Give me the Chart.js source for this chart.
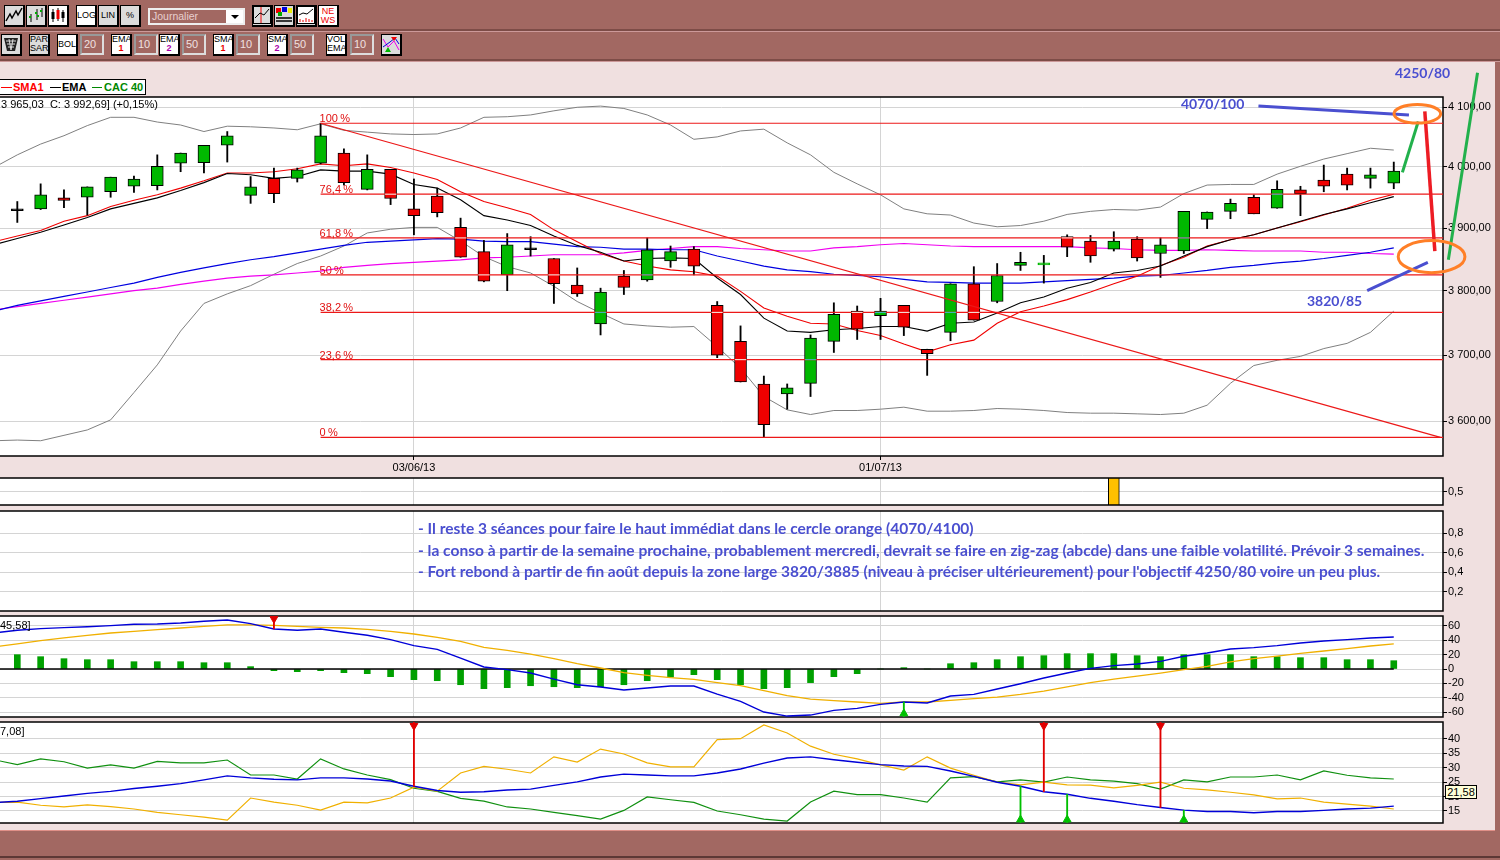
<!DOCTYPE html>
<html lang="fr">
<head>
<meta charset="utf-8">
<title>CAC 40</title>
<script src="https://cdn.jsdelivr.net/npm/chart.js@4/dist/chart.umd.min.js"></script>
<style>
html,body{margin:0;padding:0;width:1500px;height:860px;overflow:hidden;background:#a26862;font-family:"Liberation Sans",Arial,sans-serif;}
#mid{position:absolute;left:0;top:62px;width:1495px;height:768px;background:#f0e0e0;border-bottom:1px solid #e09088;}
.rule{position:absolute;left:0;width:1500px;height:2px;background:#7d4c47;border-bottom:1px solid #c99;}
canvas{position:absolute;left:0;}
.b{position:absolute;box-sizing:border-box;width:21px;height:22px;background:#fff;border:1px solid #000;border-right-width:2px;border-bottom-width:2px;font-size:9px;line-height:9px;text-align:center;color:#000;overflow:hidden;}
.b.g{background:#dcdcdc;}
.b.one{line-height:19px;}
.b.two{padding-top:0;}
.b i{font-style:normal;font-weight:bold;}
.b svg{position:absolute;left:0;top:0;}
.inp{position:absolute;box-sizing:border-box;width:24px;height:21px;background:#a26862;border:2px solid #999;border-right-color:#ddd;border-bottom-color:#ddd;color:#f0e0e0;font-size:11px;line-height:17px;padding-left:2px;}
.t{position:absolute;white-space:nowrap;z-index:5;}
.note{font-family:Lato,sans-serif;font-weight:bold;color:#4a4fd0;}
.m{font-size:11px;color:#000;}
#legend{position:absolute;left:-1px;top:79px;width:147px;height:16px;box-sizing:border-box;background:#fff;border:1px solid #000;font-size:11px;font-weight:bold;line-height:14px;z-index:5;}
#legend span{position:absolute;top:0;}
#legend b{position:absolute;top:7px;height:1px;}
</style>
</head>
<body>
<div id="mid"></div>
<div class="rule" style="top:29px"></div>
<div class="rule" style="top:59px"></div>
<div class="rule" style="top:856px;background:#5c3835;border:0"></div>
<div id="toolbar"></div>

<div id="legend">
  <b style="left:1px;width:11px;background:#f00"></b><span style="left:13px;color:#f00">SMA1</span>
  <b style="left:50px;width:11px;background:#000"></b><span style="left:62px;color:#000">EMA</span>
  <b style="left:92px;width:10px;background:#080"></b><span style="left:104px;color:#080">CAC 40</span>
</div>
<div class="t m" style="left:1px;top:98px">3 965,03 &nbsp;C: 3 992,69] (+0,15%)</div>
<div class="t m" style="left:0;top:619px">45,58]</div>
<div class="t m" style="left:0;top:725px">7,08]</div>
<div class="t" style="left:1445px;top:785px;width:32px;height:14px;box-sizing:border-box;background:#ffffd8;border:1px solid #000;font-size:11px;line-height:12px;text-align:center">21,58</div>

<canvas id="cPrice" width="1493" height="416" style="top:62px"></canvas>
<canvas id="cFlag" width="1493" height="43" style="top:470px"></canvas>
<canvas id="cNote" width="1493" height="116" style="top:503px"></canvas>
<canvas id="cMacd" width="1493" height="117" style="top:608px"></canvas>
<canvas id="cAdx" width="1493" height="117" style="top:714px"></canvas>

<div class="t note" style="left:1181px;top:95px;font-size:14px">4070/100</div>
<div class="t note" style="left:1395px;top:64px;font-size:14px">4250/80</div>
<div class="t note" style="left:1307px;top:292px;font-size:14px">3820/85</div>
<div class="t note" style="left:418px;top:519px;font-size:15.5px">- Il reste 3 séances pour faire le haut immédiat dans le cercle orange (4070/4100)</div>
<div class="t note" style="left:418px;top:541px;font-size:15.55px">- la conso à partir de la semaine prochaine, probablement mercredi, devrait se faire en zig-zag (abcde) dans une faible volatilité. Prévoir 3 semaines.</div>
<div class="t note" style="left:418px;top:562px;font-size:15.45px">- Fort rebond à partir de fin août depuis la zone large 3820/3885 (niveau à préciser ultérieurement) pour l'objectif 4250/80 voire un peu plus.</div>

<script>
// sessions, 09/05/13 -> 31/07/13
const dates=['09/05/13','10/05/13','13/05/13','14/05/13','15/05/13','16/05/13','17/05/13','20/05/13','21/05/13','22/05/13','23/05/13','24/05/13','27/05/13','28/05/13','29/05/13','30/05/13','31/05/13','03/06/13','04/06/13','05/06/13','06/06/13','07/06/13','10/06/13','11/06/13','12/06/13','13/06/13','14/06/13','17/06/13','18/06/13','19/06/13','20/06/13','21/06/13','24/06/13','25/06/13','26/06/13','27/06/13','28/06/13','01/07/13','02/07/13','03/07/13','04/07/13','05/07/13','08/07/13','09/07/13','10/07/13','11/07/13','12/07/13','15/07/13','16/07/13','17/07/13','18/07/13','19/07/13','22/07/13','23/07/13','24/07/13','25/07/13','26/07/13','29/07/13','30/07/13','31/07/13'];
const candleOpen=[3928,3931,3949,3950,3959,3968,3969,4006,4007,4036,3953,3981,3981,4006,4023,3963,3996,3931,3952,3901,3862,3825,3865,3851,3809,3748,3823,3817,3847,3866,3777,3721,3656,3641,3657,3721,3768,3761,3777,3709,3735,3811,3783,3840,3841,3886,3879,3866,3882,3859,3863,3914,3927,3950,3932,3962,3978,3988,3981,3973];
const candleHigh=[3943,3972,3962,3967,3983,3985,4020,4023,4036,4059,3984,3998,3998,4073,4030,4020,3996,3980,3965,3916,3880,3891,3886,3851,3836,3804,3832,3884,3871,3870,3783,3745,3668,3656,3731,3781,3776,3788,3777,3709,3811,3838,3843,3861,3856,3889,3888,3894,3886,3884,3927,3926,3947,3954,3977,3968,4003,3998,3998,4008];
const candleLow=[3909,3930,3933,3921,3950,3958,3962,3992,3990,4008,3940,3941,3975,4005,3970,3962,3938,3889,3918,3853,3814,3800,3855,3780,3791,3731,3794,3815,3837,3825,3696,3659,3576,3618,3637,3704,3724,3724,3730,3669,3722,3754,3781,3832,3812,3854,3845,3863,3847,3821,3859,3899,3915,3923,3932,3920,3959,3962,3965,3964];
const candleClose=[3928,3954,3945,3967,3983,3980,4001,4023,4036,4052,3967,3956,3995,4052,3974,3996,3948,3920,3925,3853,3815,3873,3865,3811,3795,3798,3805,3865,3862,3839,3700,3659,3595,3650,3726,3763,3740,3768,3743,3702,3811,3754,3824,3845,3841,3869,3855,3879,3852,3873,3927,3926,3940,3923,3963,3956,3968,3970,3987,3993];
const bollUp=[4020,4038,4052,4069,4083,4083,4075,4070,4059,4068,4067,4065,4062,4072,4061,4058,4055,4054,4055,4065,4083,4084,4087,4094,4100,4102,4098,4087,4070,4046,4050,4060,4063,4040,4020,3991,3972,3954,3931,3923,3921,3908,3902,3904,3911,3922,3927,3930,3929,3934,3956,3970,3971,3971,3988,4001,4013,4022,4031,4028];
const bollDown=[3572,3571,3579,3587,3602,3643,3685,3737,3780,3795,3808,3826,3843,3855,3871,3892,3898,3901,3901,3879,3854,3838,3828,3807,3783,3765,3748,3745,3743,3744,3713,3680,3637,3617,3610,3616,3616,3618,3621,3615,3615,3616,3619,3618,3616,3613,3612,3612,3611,3610,3612,3624,3657,3684,3692,3698,3710,3718,3735,3768];
const sma1=[3887,3896,3911,3920,3935,3945,3954,3965,3977,3990,3990,3992,3997,4005,4002,4005,3999,3990,3979,3959,3943,3933,3922,3897,3878,3859,3847,3839,3833,3830,3823,3799,3773,3760,3749,3748,3738,3730,3717,3705,3716,3723,3749,3767,3776,3786,3798,3811,3823,3840,3853,3871,3881,3889,3900,3910,3921,3932,3945,3955];
const ema1=[3883,3893,3905,3917,3931,3940,3949,3961,3974,3989,3987,3981,3984,3995,3993,3993,3988,3971,3965,3946,3920,3913,3904,3887,3872,3861,3847,3851,3852,3851,3820,3794,3757,3737,3735,3739,3741,3744,3744,3737,3749,3751,3765,3781,3790,3804,3813,3828,3832,3839,3855,3870,3881,3889,3900,3911,3922,3931,3941,3951];
const ema2=[3777,3784,3791,3798,3805,3812,3821,3829,3836,3843,3849,3854,3860,3866,3872,3877,3879,3881,3883,3882,3879,3878,3878,3874,3870,3869,3866,3866,3865,3865,3855,3847,3839,3833,3830,3826,3824,3822,3818,3814,3813,3812,3812,3812,3814,3816,3818,3820,3823,3824,3828,3832,3837,3840,3844,3847,3851,3856,3861,3868];
const sma2=[3775,3780,3785,3790,3795,3800,3804,3810,3815,3820,3823,3825,3828,3831,3837,3840,3843,3845,3847,3849,3852,3853,3855,3857,3857,3857,3860,3864,3867,3870,3870,3867,3865,3863,3863,3868,3870,3873,3875,3873,3871,3870,3870,3870,3870,3870,3868,3867,3865,3864,3864,3865,3864,3863,3863,3863,3861,3861,3859,3858];
// values of the session just before the window, the lines come in from the left edge
const prevBollUp=3999,prevBollDown=3571,prevSma1=3878,prevEma1=3873,prevEma2=3768,prevSma2=3770;
const prevMacd=50.2,prevSignal=30.7,prevAdx=17.9,prevDiPlus=32.8,prevDiMinus=18;
const fibLevels=[4073,3955,3884,3825,3766,3693,3576];
const fibLabels=['100\u2009%','76,4\u2009%','61,8\u2009%','50\u2009%','38,2\u2009%','23,6\u2009%','0\u2009%'];
const trendX=[13,61],trendY=[4073,3576];
// hand drawn marks on the price panel
const handBlueTopX=[53.2,59.65],handBlueTopY=[4102,4087];
const handGreenShortX=[59.37,60.05],handGreenShortY=[3991,4076];
const handRedX=[60.33,60.76],handRedY=[4093,3863];
const handGreenLongX=[61.34,62.59],handGreenLongY=[3849,4159];
const handBlueLowX=[57.86,60.46],handBlueLowY=[3800,3845];
const ringX=[60.01,60.62],ringY=[4089,3854],ringDX=[1.0,1.43],ringDY=[15.6,25.5];
const flatGreen=[44];

const priceTicks=[3600,3700,3800,3900,4000,4100];
const dateTicks=[17,37];
const flagIdx=[47],flagVal=[1];
const noteTicks=[0.2,0.4,0.6,0.8];

const macdHist=[20,17.2,14.4,13,13,10.2,10.2,10.2,8.8,8.8,3.3,-2.3,-3.7,-2.3,-5.1,-6.5,-10.7,-14.9,-16.3,-21.9,-27.4,-26,-23.3,-24.7,-26,-24.7,-21.9,-16.3,-11.2,-7.9,-14.9,-21.9,-27.4,-26,-19,-10.7,-6.5,0,1.9,0,7.4,8.8,13,17.2,18.6,21.4,21.4,21.4,18.6,17.2,20,20,20,17.2,17.2,15.8,15.8,13,13,11.6];
const macdLine=[54,56.3,57.7,59,60.5,62.3,62.8,64.2,66.5,68.4,63.3,55.8,54,55.8,51.2,47,40.9,32.6,27.4,15.3,2.8,-0.9,-5.6,-14,-21.9,-25,-29.3,-26.5,-23.7,-23.7,-34.9,-45.1,-60,-65.6,-64.2,-57.7,-54.9,-49.3,-46,-47.4,-37.7,-35.3,-27.9,-20.5,-12.6,-5.6,0.9,4.7,7,10.7,17.7,22.3,27.9,29.8,32.6,36.3,39.1,40.9,43.3,44.7];
const macdSignal=[34.9,39.5,43.3,47,50.2,52.6,54.9,57.2,59.5,61.4,61.4,60.9,59.5,58.1,57.2,55.3,52.6,48.8,44.2,38.6,30.2,26,20.9,14.4,7.4,1.4,-5.1,-8.8,-12.1,-14.4,-19,-23.3,-30.2,-37.2,-41.9,-44.2,-46,-47.9,-46,-46,-43.7,-41.4,-39.1,-35.3,-30.7,-25,-19,-14,-9.8,-5.6,-0.9,3.7,9.8,14.4,18.1,21.9,25.1,28.4,32.1,34.9];
const macdTicks=[-60,-40,-20,0,20,40,60];
const macdSell=[11],macdBuy=[38];

const adxLine=[18.4,19.3,20.2,21.1,21.8,22.8,23.6,24.5,25.8,27.2,26.5,26,25.8,26.5,26.5,26.1,25.4,23.6,22.1,21.5,21.7,22.3,22.6,23.9,25.1,26.8,27.8,27.5,27.2,27.2,28.2,29.6,31.6,33.4,33.8,32.8,31.9,31.1,30.6,30.5,28.9,27,25,23.6,21.7,20.8,19.4,18.4,17.2,16.2,15.3,14.8,14.8,14.4,14.8,14.8,15.2,15.7,16,16.7];
const diPlus=[31.1,33.1,32.1,29.9,31,29.9,32.2,31.7,31.7,32.7,27.5,27.5,26.1,33.1,29.6,27.5,25.9,22.9,21.8,19.4,18.4,16.4,15.7,14.5,13.4,12.2,15.2,19.9,18.9,18,15,13.7,12.2,11.5,18.1,21.9,20.7,20.7,19.5,18.1,26.5,26.9,25.1,25.8,25,26.8,25.8,25.4,24.5,22.6,25.8,25.1,26.8,26.8,27.5,25.8,28.9,27.4,26.5,26.1];
const diMinus=[18.1,17,16.4,17.1,16.5,15.7,14.5,13.7,12.9,11.8,19.5,18.1,17,15.3,18.1,17.8,19.5,23.3,21.9,28.2,30.5,29.5,28.2,33.8,32,36.5,34.8,31.7,30.3,30.3,39.8,40.1,44.9,42.1,37.5,34.7,33.1,31,29.2,33.8,29.9,27.4,25,24.1,25,24.1,24,23,23.9,25,22.9,22.3,21.5,20.6,19.2,19.5,18.1,17.4,16.7,15.7];
const adxTicks=[15,20,25,30,35,40];
const adxSell=[17,44,49],adxBuy=[43,45,50];

const X_MIN=-0.742,X_MAX=61.11;
const GRID='#d4d4d4',RED='#f00000',GREEN='#00b800',HAND_BLUE='#4a4fd0';

// toolbar
const icons={
  line:'<svg width="18" height="19"><polyline points="1,15 5,8 7,12 11,5 13,9 17,2" fill="none" stroke="#000" stroke-width="1.5"/></svg>',
  ohlc:'<svg width="18" height="19"><path d="M4 8v8M10 3v11M15 2v9" stroke="#000"/><path d="M2 11h2M8 7h2M10 10h2M13 5h2" stroke="#0a0" stroke-width="2"/></svg>',
  candle:'<svg width="18" height="19"><path d="M4 3v13M9 2v13M14 4v12" stroke="#000"/><rect x="2.5" y="6" width="3" height="7" fill="#000"/><rect x="7.5" y="4" width="3" height="9" fill="#e00"/><rect x="12.5" y="6" width="3" height="6" fill="#000"/></svg>',
  chartA:'<svg width="18" height="19"><rect x=".5" y=".5" width="17" height="17" fill="#ddd" stroke="#000"/><path d="M8 1v16" stroke="#e00"/><polyline points="2,12 7,7 11,9 16,3" fill="none" stroke="#000"/></svg>',
  colors:'<svg width="18" height="19"><rect x="1" y="2" width="5" height="5" fill="#e00"/><rect x="7" y="1" width="5" height="5" fill="#00d"/><rect x="13" y="2" width="4" height="5" fill="#ee0"/><rect x="3" y="6" width="4" height="4" fill="#0a0"/><path d="M1 12h16M1 15h16" stroke="#000" stroke-width="1.5"/></svg>',
  chartB:'<svg width="18" height="19"><rect x=".5" y=".5" width="17" height="17" fill="#fff" stroke="#000"/><polyline points="2,9 6,7 10,8 16,3" fill="none" stroke="#000"/><path d="M3 16v-3M6 16v-2M9 16v-4M12 16v-3M15 16v-2" stroke="#e00"/></svg>',
  news:'<svg width="18" height="19"><text x="9" y="8" font-size="9" font-family="Liberation Sans" fill="#e00" text-anchor="middle">NE</text><text x="9" y="17" font-size="9" font-family="Liberation Sans" fill="#e00" text-anchor="middle">WS</text></svg>',
  trash:'<svg width="18" height="19"><path d="M2 3h14l-3 13H5z" fill="#222"/><path d="M4 6h10M5 9h8M6 12h6M7 4l2 11M11 4l-2 11" stroke="#ddd"/></svg>',
  cross:'<svg width="18" height="19"><polyline points="1,4 6,12 12,6 17,15" fill="none" stroke="#e0e"/><polyline points="1,12 8,7 13,3 17,9" fill="none" stroke="#00d"/><path d="M9 2h6l-3 4z" fill="#e00"/><path d="M3 17h6l-3-5z" fill="#0b0"/></svg>'
};
const buttons=[
  [4,5,'g',icons.line],[26,5,'g',icons.ohlc],[48,5,'',icons.candle],
  [76,5,'one','LOG'],[98,5,'g one','LIN'],[120,5,'g one','%'],
  [252,5,'g',icons.chartA],[274,5,'g',icons.colors],[296,5,'g',icons.chartB],[318,5,'',icons.news],
  [1,34,'g',icons.trash],[29,34,'g two','PAR<br>SAR'],[57,34,'one','BOL'],
  [111,34,'two','EMA<br><i style="color:#e00">1</i>'],[159,34,'two','EMA<br><i style="color:#a0a">2</i>'],
  [213,34,'two','SMA<br><i style="color:#e00">1</i>'],[267,34,'two','SMA<br><i style="color:#a0a">2</i>'],
  [326,34,'two','VOL<br>EMA'],[381,34,'g',icons.cross]
];
const inputs=[[80,'20'],[134,'10'],[182,'50'],[236,'10'],[290,'50'],[350,'10']];
let bar='';
buttons.forEach(b=>{bar+=`<div class="b ${b[2]}" style="left:${b[0]}px;top:${b[1]}px">${b[3]}</div>`;});
inputs.forEach(i=>{bar+=`<div class="inp" style="left:${i[0]}px;top:34px">${i[1]}</div>`;});
bar+=`<div style="position:absolute;left:148px;top:8px;width:97px;height:17px;box-sizing:border-box;border:2px solid #eee;background:#a26862;color:#e8d0d0;font-size:10.5px;line-height:13px;padding-left:2px">Journalier<div style="position:absolute;right:0;top:0;width:17px;height:13px;background:#fff"><div style="position:absolute;left:5px;top:5px;width:0;height:0;border:4px solid transparent;border-top-color:#000"></div></div></div>`;
document.getElementById('toolbar').innerHTML=bar;

function xy(arr,prev){
  const pts=arr.map((v,i)=>({x:i,y:v}));
  if(prev!==undefined)pts.unshift({x:-1,y:prev});
  return pts;
}
function seg(xs,ys){return xs.map((x,i)=>({x:x,y:ys[i]}));}
function line(data,color,width,order,extra){return Object.assign({type:'line',data:data,borderColor:color,borderWidth:width,pointRadius:0,tension:0,order:order,borderCapStyle:'butt'},extra||{});}
function bars(data,color,thick,order,extra){return Object.assign({type:'bar',data:data,backgroundColor:color,barThickness:thick,order:order,grouped:false},extra||{});}
function marks(data,color,rotation,order){return {type:'line',data:data,showLine:false,pointStyle:'triangle',pointRadius:4.5,pointRotation:rotation,pointBackgroundColor:color,pointBorderColor:color,order:order};}

const frame={id:'frame',
  beforeDraw(c){const a=c.chartArea,g=c.ctx;g.save();g.fillStyle='#fff';g.fillRect(a.left,a.top,a.right-a.left,a.bottom-a.top);g.restore();},
  beforeDatasetsDraw(c){const a=c.chartArea,g=c.ctx;g.save();g.strokeStyle='#000';g.lineWidth=1.5;g.strokeRect(a.left-3,a.top,a.right-a.left+3,a.bottom-a.top);g.restore();}
};
// fib lines show through the bodies, labels sit on the left end, rings go last
const priceExtras={id:'priceExtras',
  afterDatasetsDraw(c){
    const g=c.ctx,x=c.scales.x,y=c.scales.y;
    g.save();
    g.lineWidth=1;
    fibLevels.forEach(l=>{
      candleOpen.forEach((o,i)=>{
        if(i<13)return;
        const top=Math.max(o,candleClose[i]),bot=Math.min(o,candleClose[i]);
        if(l<top&&l>bot){
          const px=x.getPixelForValue(i),py=y.getPixelForValue(l);
          g.strokeStyle=candleClose[i]>o?'#30c8c8':'#f6f0e8';
          g.beginPath();g.moveTo(px-5.5,py);g.lineTo(px+5.5,py);g.stroke();
        }
      });
    });
    g.font='11px "Liberation Sans"';g.fillStyle='#e01010';g.textAlign='left';g.textBaseline='alphabetic';
    fibLabels.forEach((t,i)=>{g.fillText(t,x.getPixelForValue(13)-1,y.getPixelForValue(fibLevels[i])-1);});
    g.strokeStyle='#ff7f27';g.lineWidth=3;
    ringX.forEach((cx,i)=>{
      const px=x.getPixelForValue(cx),py=y.getPixelForValue(ringY[i]);
      g.beginPath();
      g.ellipse(px,py,x.getPixelForValue(cx+ringDX[i])-px,y.getPixelForValue(ringY[i]-ringDY[i])-py,0,0,Math.PI*2);
      g.stroke();
    });
    g.restore();
  }
};

function scales(yType,yMin,yMax,yVals,yFmt,showDates){
  return {
    x:{type:'linear',min:X_MIN,max:X_MAX,offset:false,
      afterBuildTicks:s=>{s.ticks=dateTicks.map(v=>({value:v}));},
      afterFit:s=>{s.height=showDates?22:0;},
      border:{display:false},
      grid:{color:GRID,lineWidth:1,offset:false,drawTicks:showDates,tickColor:'#000',tickLength:4},
      ticks:{display:showDates,autoSkip:false,maxRotation:0,padding:1,color:'#000',font:{size:11,family:'"Liberation Sans"'},callback:v=>dates[v]}
    },
    y:{type:yType,position:'right',min:yMin,max:yMax,beginAtZero:false,
      afterBuildTicks:s=>{s.ticks=yVals.map(v=>({value:v}));},
      afterFit:s=>{s.width=50;},
      border:{display:false},
      grid:{color:GRID,lineWidth:1,tickColor:'#000',tickLength:4},
      ticks:{autoSkip:false,padding:1,color:'#000',font:{size:11,family:'"Liberation Sans"'},callback:yFmt}
    }
  };
}
function options(padTop,padBottom,sc){
  return {responsive:false,animation:false,devicePixelRatio:1,
    layout:{autoPadding:false,padding:{top:padTop,bottom:padBottom,left:0,right:0}},
    plugins:{legend:{display:false},tooltip:{enabled:false}},
    events:[],scales:sc};
}
function price(v){const s=v.toFixed(2).replace('.',',');return s.charAt(0)+' '+s.slice(1);}

new Chart(document.getElementById('cPrice'),{
  type:'line',
  data:{datasets:[
    line(seg(handBlueTopX,handBlueTopY),HAND_BLUE,3,0,{clip:false}),
    line(seg(handGreenShortX,handGreenShortY),'#22b14c',3,0,{clip:false}),
    line(seg(handRedX,handRedY),'#ed1c24',3.5,0,{clip:false}),
    line(seg(handGreenLongX,handGreenLongY),'#22b14c',3,0,{clip:false}),
    line(seg(handBlueLowX,handBlueLowY),HAND_BLUE,3,0,{clip:false}),
    ...fibLevels.map(l=>line(seg([13,X_MAX],[l,l]),'#ec1818',1.2,1)),
    line(seg(trendX,trendY),'#ec1818',1.2,1),
    bars(candleOpen.map((o,i)=>({x:i,y:[o,candleClose[i]]})),
      candleOpen.map((o,i)=>candleClose[i]>o?GREEN:(candleClose[i]==o?(flatGreen.includes(i)?GREEN:'#000'):RED)),12,2,
      {borderColor:candleOpen.map((o,i)=>flatGreen.includes(i)?GREEN:'#000'),borderWidth:1,borderSkipped:false,minBarLength:2}),
    bars(candleLow.map((l,i)=>({x:i,y:[l,candleHigh[i]]})),'#000',1.2,3),
    line(xy(ema1,prevEma1),'#000',1.1,4),
    line(xy(sma1,prevSma1),'#f00000',1.1,4),
    line(xy(ema2,prevEma2),'#0000e0',1.2,5),
    line(xy(sma2,prevSma2),'#f000f0',1.2,5),
    line(xy(bollUp,prevBollUp),'#808080',1,6),
    line(xy(bollDown,prevBollDown),'#808080',1,6)
  ]},
  options:options(35,0,scales('logarithmic',3548.5,4117.5,priceTicks,price,true)),
  plugins:[frame,priceExtras]
});

new Chart(document.getElementById('cFlag'),{
  type:'line',
  data:{datasets:[
    bars(flagIdx.map((x,i)=>({x:x,y:flagVal[i]})),'#ffc000',11,1,{borderColor:'#000',borderWidth:1,borderSkipped:false})
  ]},
  options:options(8,8,scales('linear',0,1,[0.5],v=>String(v).replace('.',','),false)),
  plugins:[frame]
});

new Chart(document.getElementById('cNote'),{
  type:'line',
  data:{datasets:[]},
  options:options(8,8,scales('linear',0,1.03,noteTicks,v=>String(v).replace('.',','),false)),
  plugins:[frame]
});

new Chart(document.getElementById('cMacd'),{
  type:'line',
  data:{datasets:[
    marks(macdSell.map(i=>({x:i,y:70})),'#e00000',180,0),
    marks(macdBuy.map(i=>({x:i,y:-62})),'#00c000',0,0),
    bars(macdSell.map(i=>({x:i,y:[macdLine[i],74]})),'#e00000',1.2,1),
    bars(macdBuy.map(i=>({x:i,y:[-67,macdLine[i]]})),'#00c000',1.2,1),
    line(xy(macdLine,prevMacd),'#0000d8',1.4,2),
    line(xy(macdSignal,prevSignal),'#f0b000',1.3,3),
    line(seg([X_MIN,59],[0,0]),'#000',1.3,4),
    bars(xy(macdHist),'#00a000',6,5)
  ]},
  options:options(8,8,scales('linear',-66.9,73.9,macdTicks,v=>String(v),false)),
  plugins:[frame]
});

new Chart(document.getElementById('cAdx'),{
  type:'line',
  data:{datasets:[
    marks(adxSell.map(i=>({x:i,y:44.6})),'#e00000',180,0),
    marks(adxBuy.map(i=>({x:i,y:12})),'#00c000',0,0),
    bars(adxSell.map(i=>({x:i,y:[adxLine[i],45.9]})),'#e00000',1.2,1),
    bars(adxBuy.map(i=>({x:i,y:[10.8,adxLine[i]]})),'#00c000',1.2,1),
    line(xy(adxLine,prevAdx),'#0000d8',1.4,2),
    line(xy(diMinus,prevDiMinus),'#f0b000',1.2,3),
    line(xy(diPlus,prevDiPlus),'#109010',1.2,3)
  ]},
  options:options(8,8,scales('linear',10.83,45.9,adxTicks,v=>String(v),false)),
  plugins:[frame]
});
</script>
</body>
</html>
